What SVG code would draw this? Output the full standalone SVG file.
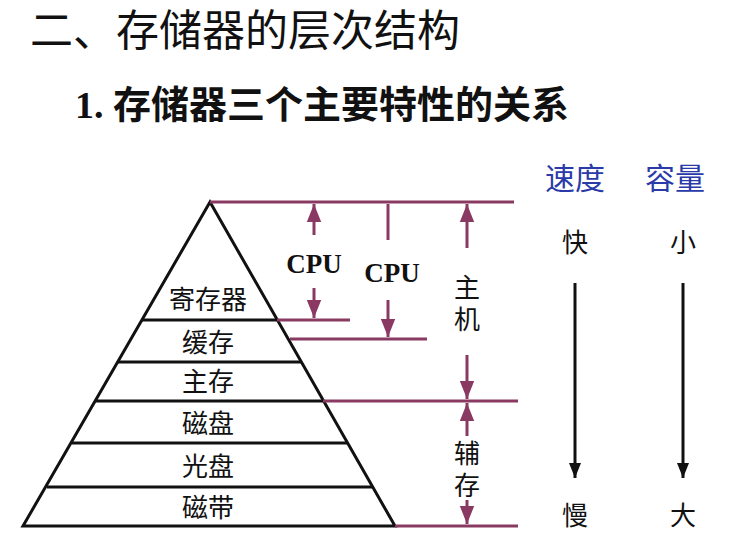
<svg xmlns="http://www.w3.org/2000/svg" width="732" height="555" viewBox="0 0 732 555">
<defs>
<marker id="a" viewBox="0 0 10 10" refX="10" refY="5" markerWidth="6" markerHeight="6" orient="auto-start-reverse"><path d="M0,1 L10,5 L0,9 Z" fill="#8a3a62"/></marker>
<marker id="b" viewBox="0 0 10 10" refX="10" refY="5" markerWidth="5" markerHeight="6" orient="auto"><path d="M0,1 L10,5 L0,9 Z" fill="#111"/></marker>
<style>
.cjk{font-family:"Liberation Serif","Noto Sans CJK SC",serif;fill:#111}
.p{stroke:#8a3a62;stroke-width:3;fill:none}
.k{stroke:#111;stroke-width:3;fill:none}
.lab{font-size:26px;text-anchor:middle}
.cpu{font-family:"Liberation Serif",serif;font-weight:bold;font-size:27px;fill:#111;text-anchor:middle}
</style>
</defs>
<rect width="732" height="555" fill="#fff"/>
<text class="cjk" x="30" y="46" font-size="43">二、存储器的层次结构</text>
<text class="cjk" x="75" y="118" font-size="38" font-weight="bold">1. 存储器三个主要特性的关系</text>
<g id="pyramid">
<path class="k" d="M210,202 L395,526 L23,526 Z"/>
<line class="k" x1="142" y1="320" x2="277" y2="320"/>
<line class="k" x1="118" y1="362" x2="301" y2="362"/>
<line class="k" x1="96" y1="401" x2="323" y2="401"/>
<line class="k" x1="72" y1="443" x2="347" y2="443"/>
<line class="k" x1="47" y1="487" x2="372" y2="487"/>
<text class="cjk lab" x="208" y="309">寄存器</text>
<text class="cjk lab" x="208" y="352">缓存</text>
<text class="cjk lab" x="208" y="391">主存</text>
<text class="cjk lab" x="208" y="433">磁盘</text>
<text class="cjk lab" x="208" y="476">光盘</text>
<text class="cjk lab" x="208" y="517">磁带</text>
</g>
<g id="connectors">
<line class="p" x1="210" y1="202" x2="514" y2="202"/>
<line class="p" x1="277" y1="320" x2="350" y2="320"/>
<line class="p" x1="290" y1="339" x2="427" y2="339"/>
<line class="p" x1="323" y1="401" x2="518" y2="401"/>
<line class="p" x1="395" y1="526" x2="518" y2="526"/>
<line class="p" x1="314" y1="235" x2="314" y2="204" marker-end="url(#a)"/>
<line class="p" x1="314" y1="288" x2="314" y2="318" marker-end="url(#a)"/>
<line class="p" x1="388" y1="240" x2="388" y2="204"/>
<line class="p" x1="388" y1="300" x2="388" y2="337" marker-end="url(#a)"/>
<line class="p" x1="467" y1="248" x2="467" y2="204" marker-end="url(#a)"/>
<line class="p" x1="467" y1="355" x2="467" y2="399" marker-end="url(#a)"/>
<line class="p" x1="467" y1="436" x2="467" y2="403" marker-end="url(#a)"/>
<line class="p" x1="467" y1="500" x2="467" y2="524" marker-end="url(#a)"/>
<line class="k" x1="575" y1="283" x2="575" y2="478" stroke-width="2" marker-end="url(#b)"/>
<line class="k" x1="683" y1="283" x2="683" y2="478" stroke-width="2" marker-end="url(#b)"/>
</g>
<g id="labels">
<text class="cpu" x="314" y="273">CPU</text>
<text class="cpu" x="392" y="282">CPU</text>
<text class="cjk lab" x="467" y="297">主</text>
<text class="cjk lab" x="467" y="329">机</text>
<text class="cjk lab" x="467" y="463">辅</text>
<text class="cjk lab" x="467" y="495">存</text>
<text class="cjk" x="575" y="189" font-size="30" text-anchor="middle" style="fill:#2a3aa8">速度</text>
<text class="cjk" x="675" y="189" font-size="30" text-anchor="middle" style="fill:#2a3aa8">容量</text>
<text class="cjk lab" x="575" y="252">快</text>
<text class="cjk lab" x="683" y="252">小</text>
<text class="cjk lab" x="575" y="525">慢</text>
<text class="cjk lab" x="683" y="525">大</text>
</g>
</svg>
